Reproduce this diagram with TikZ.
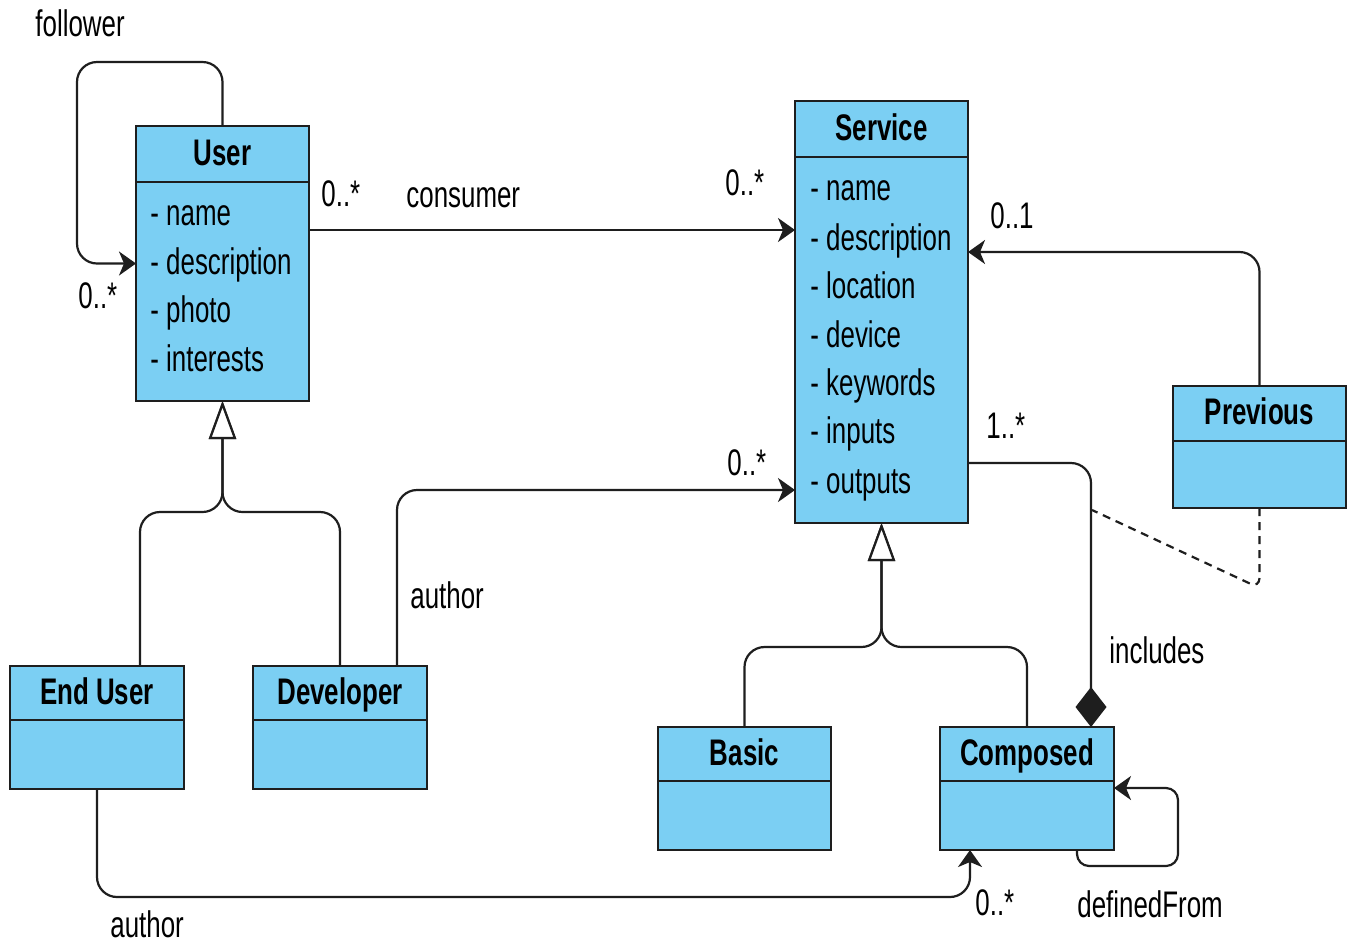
\documentclass[tikz,border=0pt]{standalone}
\usepackage{fontspec}
\setmainfont{Liberation Sans}[FakeStretch=0.7]
\usetikzlibrary{arrows.meta}

\definecolor{classfill}{HTML}{7BCFF3}
\definecolor{ink}{HTML}{1E1E1E}

\newcommand\diagfont{\fontsize{18.5}{22}\selectfont}

\tikzset{
  classbox/.style={draw=ink, line width=1.25pt, fill=classfill, inner sep=0pt,
                   outer sep=0pt, anchor=north west},
  classtitle/.style={font=\diagfont\bfseries, anchor=base, inner sep=0pt},
  attr/.style={anchor=base west, inner sep=0pt},
  lbl/.style={anchor=base west, inner sep=0pt},
  conn/.style={draw=ink, line width=1.1pt, rounded corners=10pt},
  assoc/.style={conn, -{Stealth[length=8.5pt, width=12pt, inset=2.5pt]}},
  gen/.style={conn, -{Triangle[open, length=19pt, width=13.5pt, fill=white]}},
  compo/.style={conn, -{Diamond[length=20pt, width=15.5pt]}},
  assocclass/.style={conn, rounded corners=5pt, dash pattern=on 4pt off 3pt},
}

% class box: name, left, top, width, height, header height, title
\newcommand\umlclass[7]{%
  \node[classbox, minimum width=#4*0.5pt, minimum height=#5*0.5pt] (#1) at (#2,#3) {};
  \draw[draw=ink, line width=1.25pt]
    ([yshift=-#6*0.5pt]#1.north west) -- ([yshift=-#6*0.5pt]#1.north east);
  \node[classtitle] (#1-title) at ([yshift=-#6*0.25pt-5.5pt]#1.north) {#7};
}

\begin{document}
\begin{tikzpicture}[x=0.5pt, y=-0.5pt, font=\diagfont]
\path[use as bounding box, fill=white] (0,0) rectangle (1352,944);

% classes
\umlclass{user}{136}{126}{173}{275}{56}{User}
\umlclass{service}{795}{101}{173}{422}{56}{Service}
\umlclass{previous}{1173}{386}{173}{122}{55}{Previous}
\umlclass{enduser}{10}{666}{174}{123}{54}{End User}
\umlclass{developer}{253}{666}{174}{123}{54}{Developer}
\umlclass{basic}{658}{727}{173}{123}{54}{Basic}
\umlclass{composed}{940}{727}{174}{123}{54}{Composed}

% attributes
\node[attr] (u1) at (150,225) {- name};
\node[attr] (u2) at (150,274) {- description};
\node[attr] (u3) at (150,322) {- photo};
\node[attr] (u4) at (150,371) {- interests};

\node[attr] (s1) at (810,200) {- name};
\node[attr] (s2) at (810,250) {- description};
\node[attr] (s3) at (810,298) {- location};
\node[attr] (s4) at (810,347) {- device};
\node[attr] (s5) at (810,395) {- keywords};
\node[attr] (s6) at (810,443) {- inputs};
\node[attr] (s7) at (810,493) {- outputs};

% routing levels
\coordinate (fl) at (77,62);
\coordinate (cny) at (0,230);
\coordinate (py) at (0,252);
\coordinate (cy) at (0,463);
\coordinate (cx) at (1091,0);
\coordinate (ax) at (397,0);
\coordinate (ay) at (0,490);
\coordinate (gx1) at (140,0);
\coordinate (gx2) at (340,0);
\coordinate (gy1) at (0,512);
\coordinate (gy2) at (0,647);
\coordinate (by) at (0,897);
\coordinate (bx) at (970,0);
\coordinate (dx) at (1077,0);
\coordinate (dfa) at (1178,866);
\coordinate (dfy) at (0,788);
\coordinate (dby) at (0,588);
\coordinate (dashend) at (1092,510);

% follower (self association)
\draw[assoc] (user.north) |- (fl) |- (user.west);

% consumer
\draw[assoc] (user.east |- cny) -- (service.west |- cny);

% previous
\draw[assoc] (previous.north) |- (service.east |- py);

% author (developer -> service)
\draw[assoc] (developer.north -| ax) |- (service.west |- ay);

% includes (composition)
\draw[compo] (service.east |- cy) -| (composed.north -| cx);

% association class link
\draw[assocclass] (previous.south) -- (previous.south |- dby) -- (dashend);

% author (end user -> composed)
\draw[assoc] (enduser.south) |- (by -| bx) -- (composed.south -| bx);

% definedFrom (self association)
\draw[assoc, rounded corners=6pt] (composed.south -| dx) |- (dfa) |- (composed.east |- dfy);

% generalizations
\draw[gen] (enduser.north -| gx1) |- (user.south |- gy1) -- (user.south);
\draw[gen] (developer.north -| gx2) |- (user.south |- gy1) -- (user.south);
\draw[gen] (basic.north) |- (service.south |- gy2) -- (service.south);
\draw[gen] (composed.north) |- (service.south |- gy2) -- (service.south);

% role names and multiplicities
\node[lbl] (l-follower) at (35,36) {follower};
\node[lbl] (l-fmult) at (78,308) {0..*};
\node[lbl] (l-cmult1) at (321,206) {0..*};
\node[lbl] (l-consumer) at (406,207) {consumer};
\node[lbl] (l-cmult2) at (725,195) {0..*};
\node[lbl] (l-pmult) at (990,228) {0..1};
\node[lbl] (l-imult) at (986,438) {1..*};
\node[lbl] (l-amult) at (727,475) {0..*};
\node[lbl] (l-author1) at (410,608) {author};
\node[lbl] (l-includes) at (1109,663) {includes};
\node[lbl] (l-author2) at (110,937) {author};
\node[lbl] (l-bmult) at (975,915) {0..*};
\node[lbl] (l-defined) at (1077,917) {definedFrom};
\end{tikzpicture}
\end{document}
